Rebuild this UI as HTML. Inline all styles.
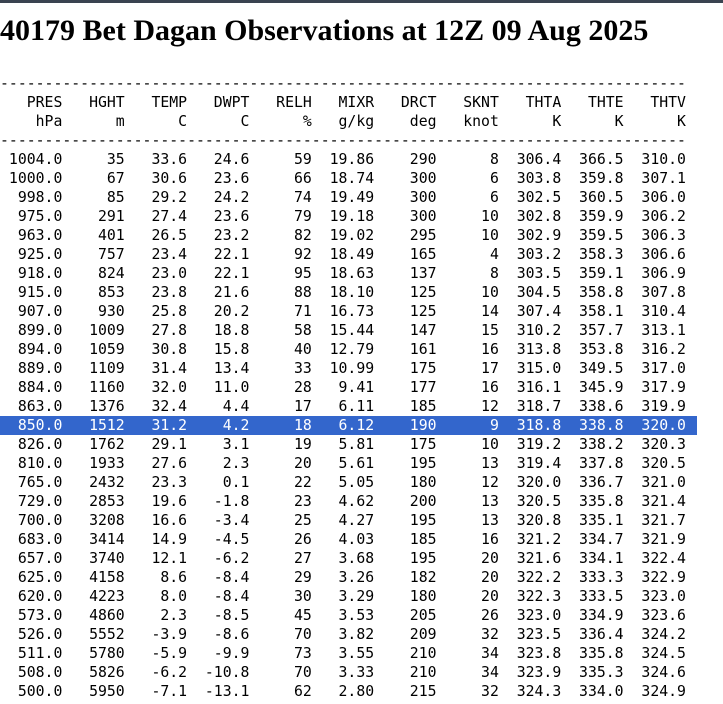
<!DOCTYPE html>
<html><head><meta charset="utf-8"><style>
html,body{margin:0;padding:0;background:#fff;width:723px;height:704px;overflow:hidden}
.bar{position:absolute;left:0;top:0;width:723px;height:3px;background:#3a4350}
h2{position:absolute;left:0;top:14px;margin:0;font:bold 30px "Liberation Serif",serif;color:#000;white-space:nowrap;line-height:34px}
pre{position:absolute;left:0;top:74px;margin:0;font-family:"DejaVu Sans Mono",monospace;font-size:14.8px;line-height:19px;color:#000}
.hl{background:#3366cc;color:#fff;display:inline-block;width:697px}
</style></head><body>
<div class="bar"></div>
<h2>40179 Bet Dagan Observations at 12Z 09 Aug 2025</h2>
<pre>-----------------------------------------------------------------------------
   PRES   HGHT   TEMP   DWPT   RELH   MIXR   DRCT   SKNT   THTA   THTE   THTV
    hPa      m      C      C      %   g/kg    deg   knot      K      K      K 
-----------------------------------------------------------------------------
 1004.0     35   33.6   24.6     59  19.86    290      8  306.4  366.5  310.0
 1000.0     67   30.6   23.6     66  18.74    300      6  303.8  359.8  307.1
  998.0     85   29.2   24.2     74  19.49    300      6  302.5  360.5  306.0
  975.0    291   27.4   23.6     79  19.18    300     10  302.8  359.9  306.2
  963.0    401   26.5   23.2     82  19.02    295     10  302.9  359.5  306.3
  925.0    757   23.4   22.1     92  18.49    165      4  303.2  358.3  306.6
  918.0    824   23.0   22.1     95  18.63    137      8  303.5  359.1  306.9
  915.0    853   23.8   21.6     88  18.10    125     10  304.5  358.8  307.8
  907.0    930   25.8   20.2     71  16.73    125     14  307.4  358.1  310.4
  899.0   1009   27.8   18.8     58  15.44    147     15  310.2  357.7  313.1
  894.0   1059   30.8   15.8     40  12.79    161     16  313.8  353.8  316.2
  889.0   1109   31.4   13.4     33  10.99    175     17  315.0  349.5  317.0
  884.0   1160   32.0   11.0     28   9.41    177     16  316.1  345.9  317.9
  863.0   1376   32.4    4.4     17   6.11    185     12  318.7  338.6  319.9
<span class="hl">  850.0   1512   31.2    4.2     18   6.12    190      9  318.8  338.8  320.0</span>
  826.0   1762   29.1    3.1     19   5.81    175     10  319.2  338.2  320.3
  810.0   1933   27.6    2.3     20   5.61    195     13  319.4  337.8  320.5
  765.0   2432   23.3    0.1     22   5.05    180     12  320.0  336.7  321.0
  729.0   2853   19.6   -1.8     23   4.62    200     13  320.5  335.8  321.4
  700.0   3208   16.6   -3.4     25   4.27    195     13  320.8  335.1  321.7
  683.0   3414   14.9   -4.5     26   4.03    185     16  321.2  334.7  321.9
  657.0   3740   12.1   -6.2     27   3.68    195     20  321.6  334.1  322.4
  625.0   4158    8.6   -8.4     29   3.26    182     20  322.2  333.3  322.9
  620.0   4223    8.0   -8.4     30   3.29    180     20  322.3  333.5  323.0
  573.0   4860    2.3   -8.5     45   3.53    205     26  323.0  334.9  323.6
  526.0   5552   -3.9   -8.6     70   3.82    209     32  323.5  336.4  324.2
  511.0   5780   -5.9   -9.9     73   3.55    210     34  323.8  335.8  324.5
  508.0   5826   -6.2  -10.8     70   3.33    210     34  323.9  335.3  324.6
  500.0   5950   -7.1  -13.1     62   2.80    215     32  324.3  334.0  324.9
</pre>
</body></html>
